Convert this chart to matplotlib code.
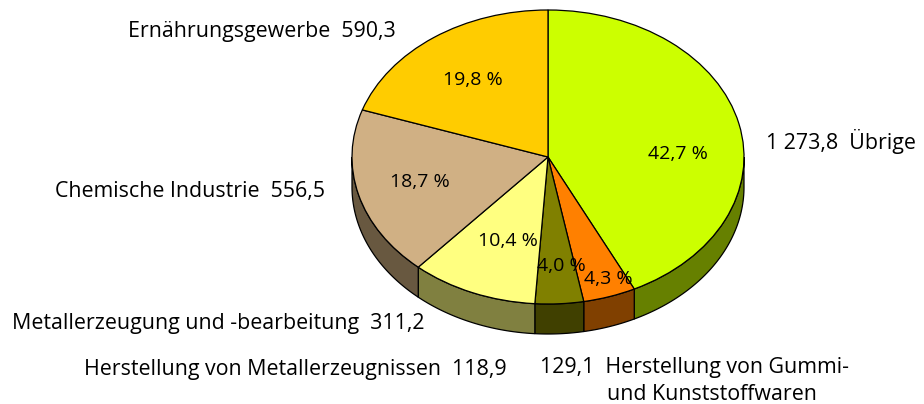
import matplotlib
matplotlib.use("Agg")
import matplotlib.pyplot as plt
import numpy as np

plt.rcParams['font.family'] = ['Open Sans', 'DejaVu Sans']

# Daten
werte = [1273.8, 129.1, 118.9, 311.2, 556.5, 590.3]
prozent = ["42,7 %", "4,3 %", "4,0 %", "10,4 %", "18,7 %", "19,8 %"]
farben = ["#ccff00", "#ff8000", "#808000", "#ffff80", "#d0b084", "#ffcc00"]
farben_seite = ["#668000", "#804000", "#404000", "#808040", "#685840", "#806600"]

W, H = 924, 404
cx, cy = 548, 157   # Mitte der Torte in Pixel
rx, ry = 196, 147
tiefe = 30 / ry

fig = plt.figure(figsize=(W / 100, H / 100), dpi=100)
ax = fig.add_axes([0, 0, 1, 1])

# Seitenwand, nur unterer Halbbogen sichtbar
grenzen = np.cumsum([0] + werte) / sum(werte) * 360
for i in range(len(werte)):
    a = max(grenzen[i], 90)
    b = min(grenzen[i + 1], 270)
    if a >= b:
        continue
    t = np.radians(np.linspace(a, b, 60))
    x = np.sin(t)
    y = np.cos(t)
    xs = np.concatenate([x, x[::-1]])
    ys = np.concatenate([y, y[::-1] - tiefe])
    ax.fill(xs, ys, facecolor=farben_seite[i], edgecolor="black", linewidth=0.9, zorder=1)

wedges, _ = ax.pie(werte, colors=farben, startangle=90, counterclock=False, radius=1,
                   wedgeprops={"edgecolor": "black", "linewidth": 0.9, "zorder": 2})

ax.set_aspect("auto")
ax.set_xlim(-cx / rx, (W - cx) / rx)
ax.set_ylim((cy - H) / ry, cy / ry)
ax.axis("off")


def txt(px, py, s, ha="left", size=15.4):
    fig.text(px / W, 1 - py / H, s, ha=ha, va="center", fontsize=size, color="black")


# Prozentwerte
pct_pos = [(678, 154), (608, 279), (561, 266), (508, 241), (420, 182), (473, 80)]
for (px, py), s in zip(pct_pos, prozent):
    txt(px, py, s, ha="center", size=14)

# Beschriftung außen
txt(128, 31, "Ernährungsgewerbe  590,3")
txt(766, 142, "1 273,8  Übrige")
txt(55, 191, "Chemische Industrie  556,5")
txt(12, 323, "Metallerzeugung und -bearbeitung  311,2")
txt(84, 369, "Herstellung von Metallerzeugnissen  118,9")
txt(540, 368, "129,1  Herstellung von Gummi-")
txt(607, 394, "und Kunststoffwaren")

fig.savefig("out.png", dpi=100)
